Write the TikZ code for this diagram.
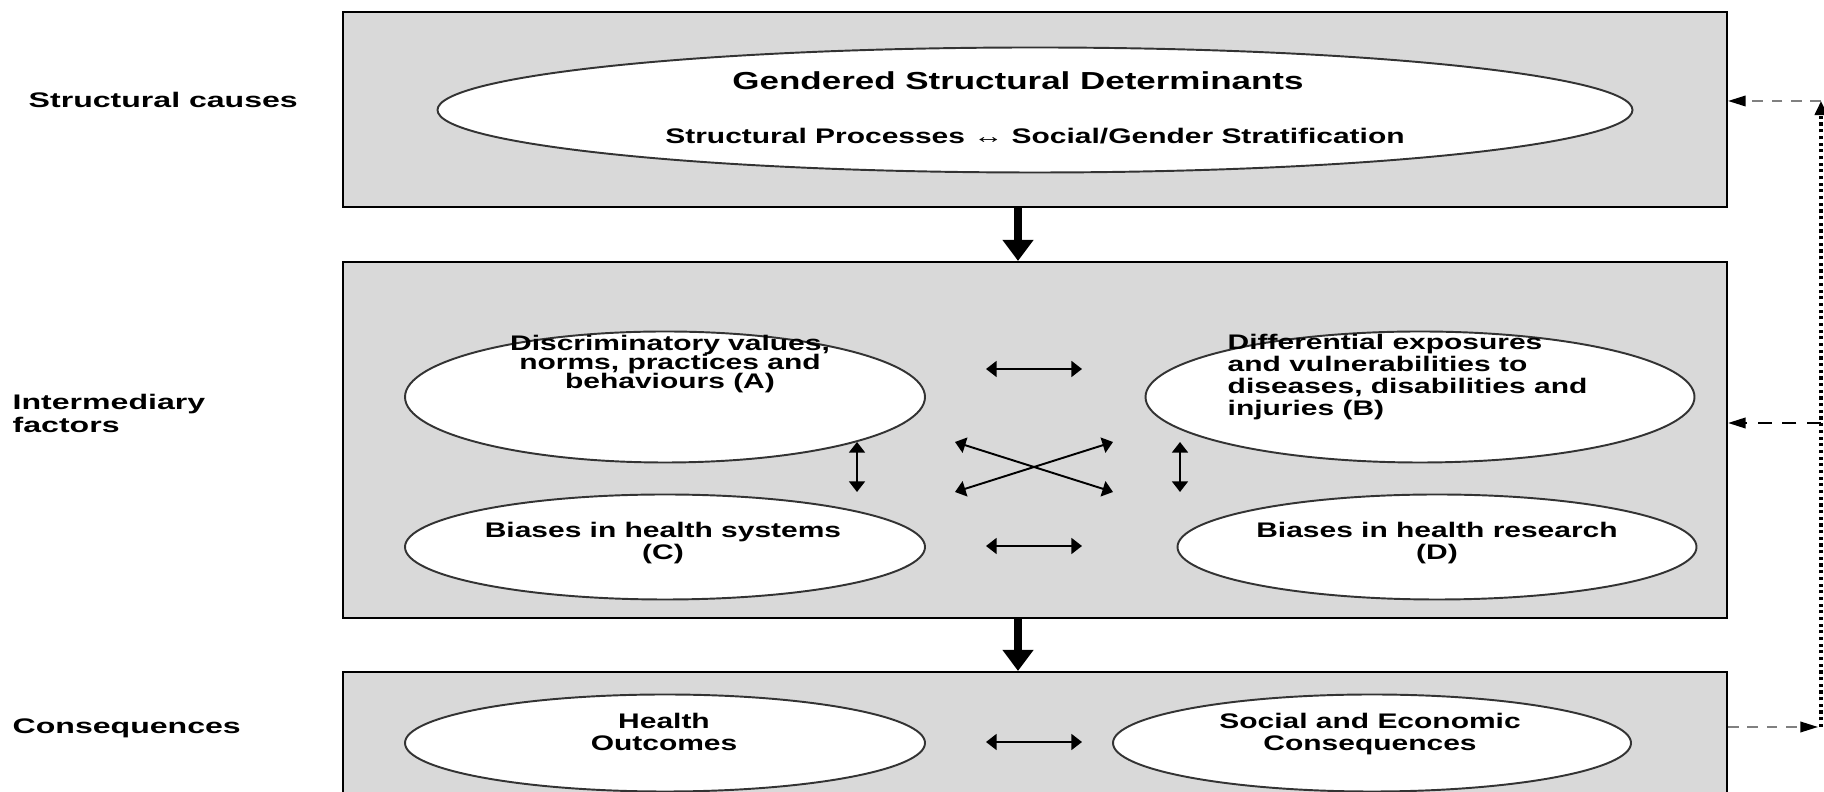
\documentclass[tikz,border=0pt]{standalone}
\usepackage{fontspec}
\usetikzlibrary{shapes.geometric, arrows.meta}
\newfontfamily\figfont[FakeStretch=1.42]{Liberation Sans Bold}
\newfontfamily\sidefont[FakeStretch=1.52]{Liberation Sans Bold}
\newcommand{\pxsize}{0.01cm}
\newcommand{\tightlines}{\lineskiplimit=-10pt\relax}

\begin{document}
\begin{tikzpicture}[x=\pxsize, y=-\pxsize]
\clip (0,0) rectangle (1824,792);
\tikzstyle{level}=[draw=black, line width=0.6pt, fill=gray!30, rectangle, inner sep=0pt]
\tikzstyle{oval}=[draw=black!80, line width=0.55pt, fill=white, ellipse, inner sep=0pt]
\tikzstyle{sidetext}=[font=\sidefont\fontsize{6}{6.8}\selectfont, anchor=base west, align=left, inner sep=0pt]
\tikzstyle{ovaltext}=[font=\figfont\fontsize{6}{6.3}\selectfont, anchor=base, align=center, inner sep=0pt]
\tikzstyle{flow}=[line width=2.3pt, -{Triangle[length=6pt, width=8.5pt]}]
\tikzstyle{link}=[line width=0.55pt, {Triangle[length=3pt, width=4.5pt]}-{Triangle[length=3pt, width=4.5pt]}]
\tikzstyle{back}=[gray, line width=0.5pt, dash pattern=on 3pt off 2.5pt, -{Triangle[length=5pt, width=3pt, black]}]

\node[level, minimum width=1384*\pxsize, minimum height=195*\pxsize] (causes) at (1035,109.5) {};
\node[level, minimum width=1384*\pxsize, minimum height=356*\pxsize] (factors) at (1035,440) {};
\node[level, minimum width=1384*\pxsize, minimum height=160*\pxsize] (conseq) at (1035,752) {};

\node[sidetext] (lcauses) at (28,108) {Structural causes};
\node[sidetext] (lfactors) at (12,433) {Intermediary\\factors};
\node[sidetext] (lconseq) at (12,734) {Consequences};

\node[oval, minimum width=1195*\pxsize, minimum height=125*\pxsize] (gsd) at (1035,110) {};
\node[oval, minimum width=520*\pxsize, minimum height=131*\pxsize] (dvn) at (665,397) {};
\node[oval, minimum width=549*\pxsize, minimum height=131*\pxsize] (dev) at (1420,397) {};
\node[oval, minimum width=520*\pxsize, minimum height=105*\pxsize] (bhs) at (665,547) {};
\node[oval, minimum width=519*\pxsize, minimum height=105*\pxsize] (bhr) at (1437,547) {};
\node[oval, minimum width=520*\pxsize, minimum height=97*\pxsize] (hout) at (665,743) {};
\node[oval, minimum width=518*\pxsize, minimum height=97*\pxsize] (sec) at (1372,743) {};

\node[ovaltext, font=\figfont\fontsize{7}{7}\selectfont] (tgsd) at (1018,90) {Gendered Structural Determinants};
\node[ovaltext] (tproc) at (1035,144) {Structural Processes ↔ Social/Gender Stratification};
\node[ovaltext, font=\figfont\fontsize{6}{5.5}\selectfont\tightlines] (tdvn) at (670,389) {Discriminatory values,\\norms, practices and\\behaviours (A)};
\node[ovaltext, anchor=base west, align=left] (tdev) at (1227,416) {Differential exposures\\and vulnerabilities to\\diseases, disabilities and\\injuries (B)};
\node[ovaltext] (tbhs) at (663,560) {Biases in health systems\\(C)};
\node[ovaltext] (tbhr) at (1437,560) {Biases in health research\\(D)};
\node[ovaltext] (thout) at (664,751) {Health\\Outcomes};
\node[ovaltext] (tsec) at (1370,751) {Social and Economic\\Consequences};

\draw[flow] ([xshift=-17*\pxsize]causes.south) -- ([xshift=-17*\pxsize]factors.north);
\draw[flow] ([xshift=-17*\pxsize]factors.south) -- ([xshift=-17*\pxsize]conseq.north);

\coordinate (ab1) at (986,369);
\coordinate (ab2) at (1082,369);
\coordinate (cd1) at (986,546);
\coordinate (cd2) at (1082,546);
\coordinate (ho1) at (986,742);
\coordinate (ho2) at (1082,742);
\coordinate (ac1) at (857,442);
\coordinate (ac2) at (857,492);
\coordinate (bd1) at (1180,442);
\coordinate (bd2) at (1180,492);
\coordinate (x1) at (955,442);
\coordinate (x2) at (1113,492);
\coordinate (x3) at (955,492);
\coordinate (x4) at (1113,442);
\draw[link] (ab1) -- (ab2);
\draw[link] (cd1) -- (cd2);
\draw[link] (ho1) -- (ho2);
\draw[link] (ac1) -- (ac2);
\draw[link] (bd1) -- (bd2);
\draw[link] (x1) -- (x2);
\draw[link] (x3) -- (x4);

\coordinate (fbtop) at (1821,101);
\coordinate (fbmid) at (1821,423);
\coordinate (fbbot) at (1821,727);
\draw[back] (fbtop) -- (fbtop -| causes.east);
\draw[back, black, line width=0.6pt, dash pattern=on 4pt off 3pt] (fbmid) -- (fbmid -| factors.east);
\draw[back] (fbbot -| conseq.east) -- ([xshift=-3*\pxsize]fbbot);
\draw[line width=0.9pt, densely dotted, -{Triangle[length=4pt, width=3.5pt]}] (fbbot) -- (fbtop);

\end{tikzpicture}
\end{document}
